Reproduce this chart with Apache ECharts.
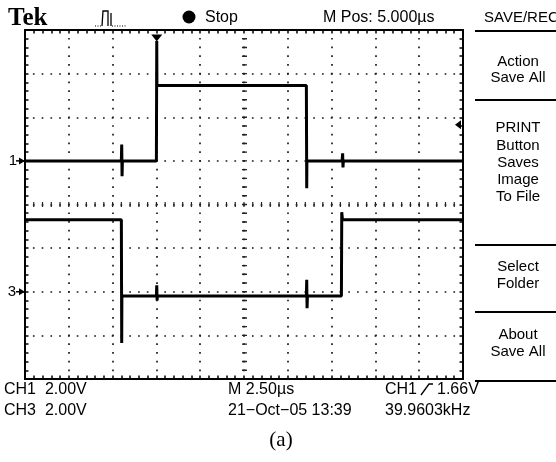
<!DOCTYPE html>
<html><head><meta charset="utf-8">
<script src="https://cdn.jsdelivr.net/npm/echarts@6/dist/echarts.min.js"></script>
<style>html,body{margin:0;padding:0;background:#fff}#c{width:556px;height:462px}</style>
</head><body><div id="c"></div>
<script>
const timeRange = [0, 25];          // µs, M 2.50 µs/div, 10 div
const timePerDiv = 2.5;
const voltsPerDiv = 2.0;            // CH1 and CH3: 2.00 V/div
const ch1Offset = 1;                // ground marker, divisions above centre
const ch3Offset = -2;
const ch1Time  = [0, 5.50, 5.52, 5.54, 5.56, 7.50, 7.52, 7.53, 7.54, 16.06, 16.08, 16.09, 16.10, 18.10, 18.13, 18.15, 18.17, 25];
const ch1Volts = [0, 0, 0.75, -0.70, 0, 0, 5.50, 3.45, 3.45, 3.45, -1.25, 0, 0, 0, 0.35, -0.30, 0, 0];
const ch3Time  = [0, 5.50, 5.52, 5.53, 5.54, 7.50, 7.52, 7.54, 7.56, 16.06, 16.08, 16.10, 16.12, 18.06, 18.08, 18.12, 25];
const ch3Volts = [3.30, 3.30, -2.35, -0.20, -0.20, -0.20, 0.30, -0.40, -0.20, -0.20, 0.55, -0.75, -0.20, -0.20, 3.65, 3.30, 3.30];
const triggerTime = 7.52;
const triggerLevel = 1.66;          // V on CH1

const gL = 25, gT = 30, gW = 438, gH = 349;
const mX = gW / 50, mY = gH / 40;

const toDiv = (t, v, off) => t.map((x, i) => [x, v[i] / voltsPerDiv + off]);

function xAx(pos, extra) {
  return Object.assign({
    type: 'value', min: timeRange[0], max: timeRange[1], interval: timePerDiv, position: pos,
    axisLine: {show: true, onZero: false, lineStyle: {color: '#000', width: 2}},
    axisTick: {show: true, inside: true, length: 3.5, lineStyle: {color: '#000', width: 1.5}},
    minorTick: {show: true, splitNumber: 5, length: 3.5, lineStyle: {color: '#000', width: 1.5}},
    axisLabel: {show: false}, splitLine: {show: false}
  }, extra);
}
function yAx(pos, extra) {
  return Object.assign({
    type: 'value', min: -4, max: 4, interval: 1, position: pos,
    axisLine: {show: true, onZero: false, lineStyle: {color: '#000', width: 2}},
    axisTick: {show: true, inside: true, length: 3.5, lineStyle: {color: '#000', width: 1.5}},
    minorTick: {show: true, splitNumber: 5, length: 3.5, lineStyle: {color: '#000', width: 1.5}},
    axisLabel: {show: false}, splitLine: {show: false}
  }, extra);
}

const chart = echarts.init(document.getElementById('c'), null, {renderer: 'canvas'});
const option = {
  animation: false,
  backgroundColor: '#fff',
  grid: {left: gL, top: gT, width: gW, height: gH, show: false},
  xAxis: [
    xAx('bottom', {splitLine: {show: true, lineStyle: {color: '#1a1a1a', width: 1.7, type: [1.7, mY - 1.7], dashOffset: 0.85}}}),
    xAx('top'),
    xAx('bottom', {offset: -gH / 2, axisTick: {show: false}, minorTick: {show: false},
      axisLine: {show: true, onZero: false, lineStyle: {color: '#222', width: 5, cap: 'butt', type: [1.2, mX - 1.2], dashOffset: 0.6}}})
  ],
  yAxis: [
    yAx('left', {splitLine: {show: true, lineStyle: {color: '#1a1a1a', width: 1.7, type: [1.7, mX - 1.7], dashOffset: 0.85}}}),
    yAx('right'),
    yAx('left', {offset: -gW / 2, axisTick: {show: false}, minorTick: {show: false},
      axisLine: {show: true, onZero: false, lineStyle: {color: '#222', width: 5, cap: 'butt', type: [1.4, mY - 1.4], dashOffset: 0.7}}})
  ],
  series: [
    {type: 'line', name: 'CH1', xAxisIndex: 0, yAxisIndex: 0, data: toDiv(ch1Time, ch1Volts, ch1Offset),
      symbol: 'none', lineStyle: {color: '#000', width: 3}, z: 5,
      markPoint: {symbol: 'path://M0,0L12,0L6,7Z', symbolSize: [11, 7], symbolOffset: [0, 8],
        itemStyle: {color: '#000'}, label: {show: false}, silent: true,
        data: [{coord: [triggerTime, 4]}]}},
    {type: 'line', name: 'CH3', xAxisIndex: 0, yAxisIndex: 0, data: toDiv(ch3Time, ch3Volts, ch3Offset),
      symbol: 'none', lineStyle: {color: '#000', width: 3}, z: 5}
  ]
};
chart.setOption(option);

const yPix = v => chart.convertToPixel({yAxisIndex: 0}, v);
const y1 = yPix(ch1Offset), y3 = yPix(ch3Offset), yT = yPix(ch1Offset + triggerLevel / voltsPerDiv);
const sans = '"Liberation Sans", Arial, sans-serif';
const T = (x, y, s, size, align, extra) => ({type: 'text', x: x, y: y, silent: true,
  style: Object.assign({text: s, font: (size || 16) + 'px ' + sans, fill: '#000', align: align || 'left', verticalAlign: 'middle'}, extra || {})});
const L = (pts, w, extra) => ({type: 'polyline', silent: true, shape: {points: pts}, style: Object.assign({stroke: '#000', lineWidth: w || 2, fill: null}, extra || {})});
const menuX = 518;
const g = [
  T(8, 19, 'Tek', 25, 'left', {font: 'bold 25px "Liberation Serif", "Times New Roman", serif'}),
  L([[95, 26], [102, 26]], 1.2, {lineDash: [1, 1.5]}),
  L([[102, 26], [103, 11], [108, 11], [108, 26]], 1.3),
  L([[111, 13], [111, 26]], 1.3),
  L([[112, 26], [126, 26]], 1.2, {lineDash: [1, 1.5]}),
  {type: 'circle', silent: true, shape: {cx: 189, cy: 17, r: 6.5}, style: {fill: '#000'}},
  T(205, 18, 'Stop', 16),
  T(323, 18, 'M Pos: 5.000\u00b5s', 16),
  T(484, 18, 'SAVE/REC', 15),
  L([[475, 31], [556, 31]], 2),
  T(menuX, 62, 'Action', 15, 'center'), T(menuX, 78, 'Save All', 15, 'center'),
  L([[475, 100], [556, 100]], 2),
  T(menuX, 128, 'PRINT', 15, 'center'), T(menuX, 146, 'Button', 15, 'center'),
  T(menuX, 163, 'Saves', 15, 'center'), T(menuX, 180, 'Image', 15, 'center'),
  T(menuX, 197, 'To File', 15, 'center'),
  L([[475, 245], [556, 245]], 2),
  T(menuX, 267, 'Select', 15, 'center'), T(menuX, 284, 'Folder', 15, 'center'),
  L([[475, 312], [556, 312]], 2),
  T(menuX, 335, 'About', 15, 'center'), T(menuX, 352, 'Save All', 15, 'center'),
  L([[475, 381], [556, 381]], 2),
  // channel ground markers
  T(13, y1, '1', 15, 'center'),
  L([[16, y1], [24, y1]], 1.5),
  {type: 'polygon', silent: true, shape: {points: [[19, y1 - 3.5], [25, y1], [19, y1 + 3.5]]}, style: {fill: '#000'}},
  T(12, y3, '3', 15, 'center'),
  L([[16, y3], [24, y3]], 1.5),
  {type: 'polygon', silent: true, shape: {points: [[19, y3 - 3.5], [25, y3], [19, y3 + 3.5]]}, style: {fill: '#000'}},
  // trigger level marker
  {type: 'polygon', silent: true, shape: {points: [[455, yT], [461, yT - 4.5], [461, yT + 4.5]]}, style: {fill: '#000'}},
  // bottom readouts
  T(4, 390, 'CH1  2.00V', 16),
  T(4, 411, 'CH3  2.00V', 16),
  T(228, 390, 'M 2.50\u00b5s', 16),
  T(228, 411, '21\u2212Oct\u221205 13:39', 16),
  T(385, 390, 'CH1', 16),
  L([[421, 395], [429, 384], [433, 384]], 1.3),
  T(437, 390, '1.66V', 16),
  T(385, 411, '39.9603kHz', 16),
  T(281, 440, '(a)', 21, 'center', {font: '21px "Liberation Serif", "Times New Roman", serif'})
];
chart.setOption({graphic: g});
</script></body></html>
